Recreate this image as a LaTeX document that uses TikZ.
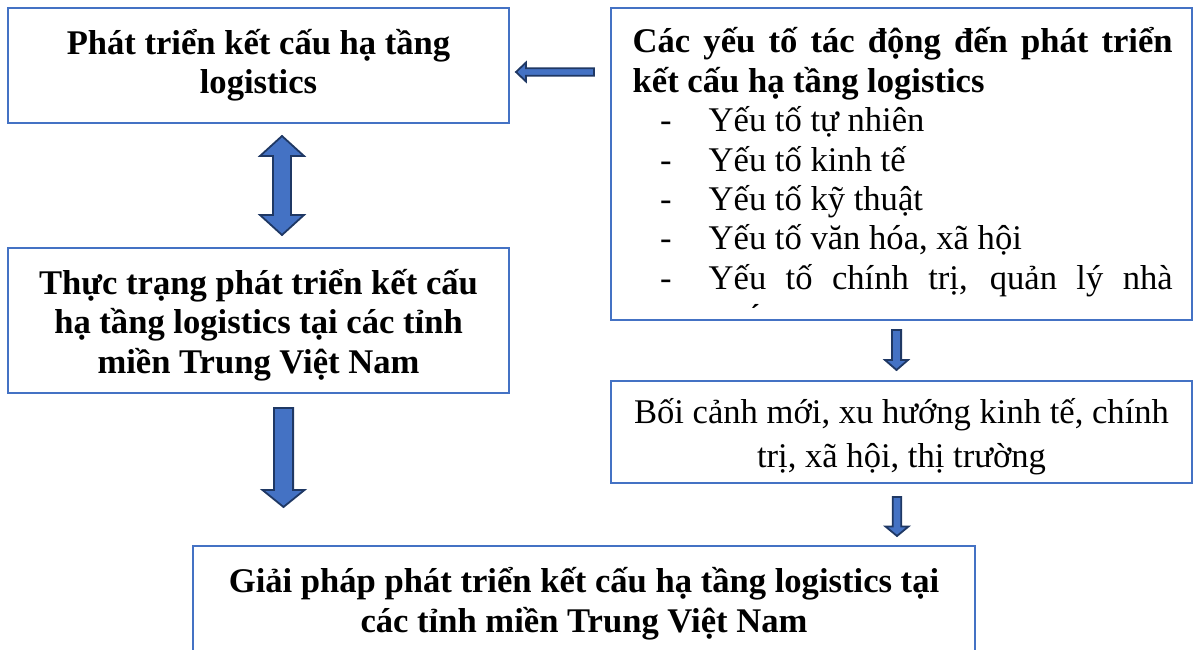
\documentclass[tikz,border=0pt]{standalone}
\usepackage{fontspec}
\setmainfont{Liberation Serif}
\usetikzlibrary{calc}

\definecolor{boxblue}{HTML}{4472C4}
\definecolor{arrowfill}{HTML}{4472C4}
\definecolor{arrowedge}{HTML}{1F3864}

\tikzset{
  frame/.style={draw=boxblue, line width=2.2pt, fill=white, inner sep=0pt},
  boldtext/.style={inner sep=0pt, align=center,
    font=\fontsize{34.6}{39.5}\selectfont\bfseries},
  plaintext/.style={inner sep=0pt, align=center,
    font=\fontsize{34.6}{43.5}\selectfont},
  blockarrow/.style={fill=arrowfill, draw=arrowedge, line width=1.8pt, line join=miter},
}

% block arrow from #1 (tail) to #2 (tip): half shaft #3, half head #4, head length #5
\newcommand\singlearrow[5]{%
  \path ($(#2)!#5!(#1)$) coordinate (hb);
  \filldraw[blockarrow] ($(#1)!#3!90:(#2)$) -- ($(hb)!#3!90:(#2)$)
    -- ($(hb)!#4!90:(#2)$) -- (#2) -- ($(hb)!#4!-90:(#2)$)
    -- ($(hb)!#3!-90:(#2)$) -- ($(#1)!#3!-90:(#2)$) -- cycle;}

% block arrow with a head at both ends #1 and #2
\newcommand\doublearrow[5]{%
  \path ($(#1)!#5!(#2)$) coordinate (ha) ($(#2)!#5!(#1)$) coordinate (hb);
  \filldraw[blockarrow] (#1) -- ($(ha)!#4!90:(#2)$) -- ($(ha)!#3!90:(#2)$)
    -- ($(hb)!#3!-90:(#1)$) -- ($(hb)!#4!-90:(#1)$) -- (#2)
    -- ($(hb)!#4!90:(#1)$) -- ($(hb)!#3!90:(#1)$)
    -- ($(ha)!#3!-90:(#2)$) -- ($(ha)!#4!-90:(#2)$) -- cycle;}

% dash item with hanging indent
\newcommand\dashitem[1]{\par\hangindent=76pt\hangafter=1\noindent
  \makebox[76pt][l]{\hspace{27.5pt}-}#1\par}

\begin{document}
\begin{tikzpicture}[x=1pt,y=-1pt]
\useasboundingbox (0,0) rectangle (1197,650);
\clip (0,0) rectangle (1197,650);

% boxes
\node[frame, minimum width=501pt, minimum height=115pt] (b1) at (258.5,65.5) {};
\node[frame, minimum width=581pt, minimum height=312pt] (b2) at (901.5,164) {};
\node[frame, minimum width=501pt, minimum height=145pt] (b3) at (258.5,320.5) {};
\node[frame, minimum width=581pt, minimum height=102pt] (b4) at (901.5,432) {};
\node[frame, minimum width=782pt, minimum height=124pt] (b5) at (584,608) {};

% box texts (base anchor = baseline of the last line)
\node[boldtext, anchor=base] (t1) at (258.5,94) {Phát triển kết cấu hạ tầng\\logistics};
\node[boldtext, anchor=base] (t3) at (258.5,373)
  {Thực trạng phát triển kết cấu\\hạ tầng logistics tại các tỉnh\\miền Trung Việt Nam};
\node[plaintext, anchor=base] (t4) at (901.5,467)
  {Bối cảnh mới, xu hướng kinh tế, chính\\trị, xã hội, thị trường};
\node[boldtext, anchor=base] (t5) at (584,632)
  {Giải pháp phát triển kết cấu hạ tầng logistics tại\\các tỉnh miền Trung Việt Nam};

\begin{scope}
  \clip (613,10) rectangle (1190,307);
  \node[inner sep=0pt, anchor=base west, text width=540pt, align=justify,
        font=\fontsize{34.6}{39.4}\selectfont] (t2) at (632.5,53)
    {\tolerance=10000\hyphenpenalty=10000
     {\bfseries Các yếu tố tác động đến phát triển kết cấu hạ tầng logistics\par}
     \dashitem{Yếu tố tự nhiên}
     \dashitem{Yếu tố kinh tế}
     \dashitem{Yếu tố kỹ thuật}
     \dashitem{Yếu tố văn hóa, xã hội}
     \dashitem{Yếu tố chính trị, quản lý nhà\linebreak nước}};
\end{scope}

% arrow end points
\coordinate (la1) at (594,72);
\coordinate (la2) at (516,72);
\coordinate (da1) at (282,136);
\coordinate (da2) at (282,235);
\coordinate (dn1) at (283.5,408);
\coordinate (dn2) at (283.5,507);
\coordinate (sa1) at (896.5,330);
\coordinate (sa2) at (896.5,370);
\coordinate (sb1) at (897,497);
\coordinate (sb2) at (897,536);

% arrows
\singlearrow{la1}{la2}{3.8pt}{9.5pt}{10pt}
\doublearrow{da1}{da2}{9pt}{22pt}{20pt}
\singlearrow{dn1}{dn2}{9.6pt}{21pt}{17pt}
\singlearrow{sa1}{sa2}{4.6pt}{11.5pt}{10pt}
\singlearrow{sb1}{sb2}{4.3pt}{11.5pt}{9.5pt}
\end{tikzpicture}
\end{document}
